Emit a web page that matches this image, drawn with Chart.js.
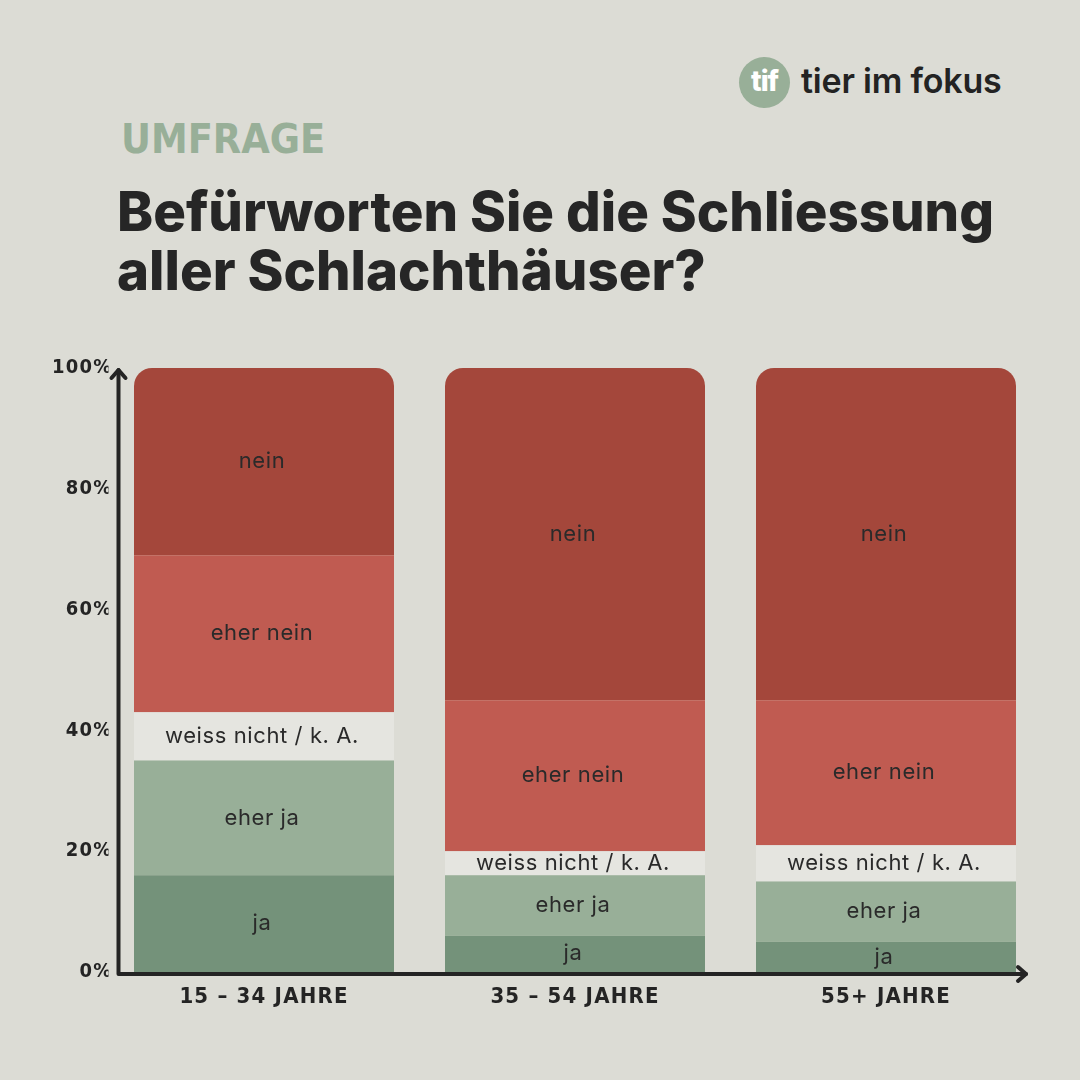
<!DOCTYPE html>
<html>
<head>
<meta charset="utf-8">
<script src="https://cdn.jsdelivr.net/npm/chart.js@4"></script>
<style>
  html, body { margin: 0; padding: 0; }
  body { width: 1080px; height: 1080px; background: #dcdcd5; position: relative; overflow: hidden; font-family: Inter, "Open Sans", sans-serif; }
  .kicker { position: absolute; left: 121px; top: 115px; font-family: "DejaVu Sans Condensed", sans-serif; font-weight: bold; font-size: 41px; color: #98af98; letter-spacing: 0px; }
  .title { position: absolute; left: 117px; top: 182px; font-weight: 800; font-size: 54.5px; line-height: 59px; color: #262626; letter-spacing: 0px; }
  .logo { position: absolute; left: 739px; top: 57px; width: 51px; height: 51px; border-radius: 50%; background: #98af98; color: #fff; font-weight: 800; font-size: 28px; line-height: 48px; text-align: center; letter-spacing: -1px; }
  .brand { position: absolute; left: 801px; top: 60px; font-weight: 600; font-size: 34px; color: #232323; letter-spacing: -0.2px; }
  canvas { position: absolute; left: 0; top: 0; }
</style>
</head>
<body>
<div class="logo">tif</div>
<div class="brand">tier im fokus</div>
<div class="kicker">UMFRAGE</div>
<div class="title">Befürworten Sie die Schliessung<br>aller Schlachthäuser?</div>
<canvas id="myChart" width="1080" height="1080"></canvas>
<script>
const groups = ['15 – 34 JAHRE', '35 – 54 JAHRE', '55+ JAHRE'];
const answers = ['ja', 'eher ja', 'weiss nicht / k. A.', 'eher nein', 'nein'];
const ja = [16, 6, 5];
const eherJa = [19, 10, 10];
const weissNicht = [8, 4, 6];
const eherNein = [26, 25, 24];
const nein = [31, 55, 55];
const yTicks = [0, 20, 40, 60, 80, 100];

const colors = ['#74927a', '#98af98', '#e5e5e0', '#c05b51', '#a4473b'];
const values = [ja, eherJa, weissNicht, eherNein, nein];

// wider letter spacing for the axis labels
const axisSpacing = {
    id: 'axisSpacing',
    beforeDraw(chart) {
        chart.ctx.letterSpacing = '1.2px';
    },
    beforeDatasetsDraw(chart) {
        chart.ctx.letterSpacing = '0px';
    }
};

// labels in the middle of each segment
const segmentLabels = {
    id: 'segmentLabels',
    afterDatasetsDraw(chart) {
        const ctx = chart.ctx;
        ctx.save();
        ctx.letterSpacing = '0.6px';
        ctx.font = '400 22px Inter, "Open Sans", sans-serif';
        ctx.fillStyle = '#2a2a2a';
        ctx.textAlign = 'center';
        ctx.textBaseline = 'middle';
        chart.data.datasets.forEach((ds, i) => {
            chart.getDatasetMeta(i).data.forEach(bar => {
                const mid = (bar.y + bar.base) / 2;
                ctx.fillText(ds.label, bar.x - 2, mid);
            });
        });
        ctx.restore();
    }
};

// axis lines with arrow heads
const axisArrows = {
    id: 'axisArrows',
    afterDraw(chart) {
        const ctx = chart.ctx;
        const y = chart.scales.y;
        const x0 = 118.5;
        const yBottom = y.getPixelForValue(0) + 2;
        const yTop = y.getPixelForValue(100) + 2;
        const xEnd = 1026;
        ctx.save();
        ctx.strokeStyle = '#242424';
        ctx.lineWidth = 4;
        ctx.lineCap = 'round';
        ctx.lineJoin = 'round';
        ctx.beginPath();
        ctx.moveTo(x0, yTop);
        ctx.lineTo(x0, yBottom);
        ctx.lineTo(xEnd, yBottom);
        ctx.stroke();
        ctx.beginPath();
        ctx.moveTo(x0 - 7, yTop + 8);
        ctx.lineTo(x0, yTop);
        ctx.lineTo(x0 + 7, yTop + 8);
        ctx.moveTo(xEnd - 8, yBottom - 7);
        ctx.lineTo(xEnd, yBottom);
        ctx.lineTo(xEnd - 8, yBottom + 7);
        ctx.stroke();
        ctx.restore();
    }
};

const tickFont = '"DejaVu Sans Condensed", "Liberation Sans Narrow", sans-serif';

const canvas = document.getElementById('myChart');
new Chart(canvas, {
    type: 'bar',
    data: {
        labels: groups,
        datasets: answers.map((label, i) => ({
            label: label,
            data: values[i],
            backgroundColor: colors[i],
            borderWidth: 0,
            borderRadius: i === answers.length - 1 ? { topLeft: 18, topRight: 18, bottomLeft: 0, bottomRight: 0 } : 0,
            borderSkipped: false,
            barPercentage: 0.836,
            categoryPercentage: 1
        }))
    },
    options: {
        responsive: false,
        animation: false,
        events: [],
        layout: {
            padding: { top: 368, bottom: 58, left: 48.5, right: 38.5 }
        },
        plugins: {
            legend: { display: false },
            tooltip: { enabled: false }
        },
        scales: {
            x: {
                stacked: true,
                grid: { display: false, drawTicks: false },
                border: { display: false },
                afterFit: s => { s.height = 50; },
                ticks: {
                    padding: 12,
                    color: '#242424',
                    font: { family: tickFont, weight: 'bold', size: 22 }
                }
            },
            y: {
                stacked: true,
                min: 0,
                max: 100,
                afterFit: s => { s.width = 60; },
                afterBuildTicks: s => { s.ticks = yTicks.map(v => ({ value: v })); },
                grid: { display: false, drawTicks: false },
                border: { display: false },
                ticks: {
                    padding: -4,
                    color: '#242424',
                    font: { family: tickFont, weight: 'bold', size: 20 },
                    callback: v => v + '%'
                }
            }
        }
    },
    plugins: [axisSpacing, segmentLabels, axisArrows]
});
</script>
</body>
</html>
